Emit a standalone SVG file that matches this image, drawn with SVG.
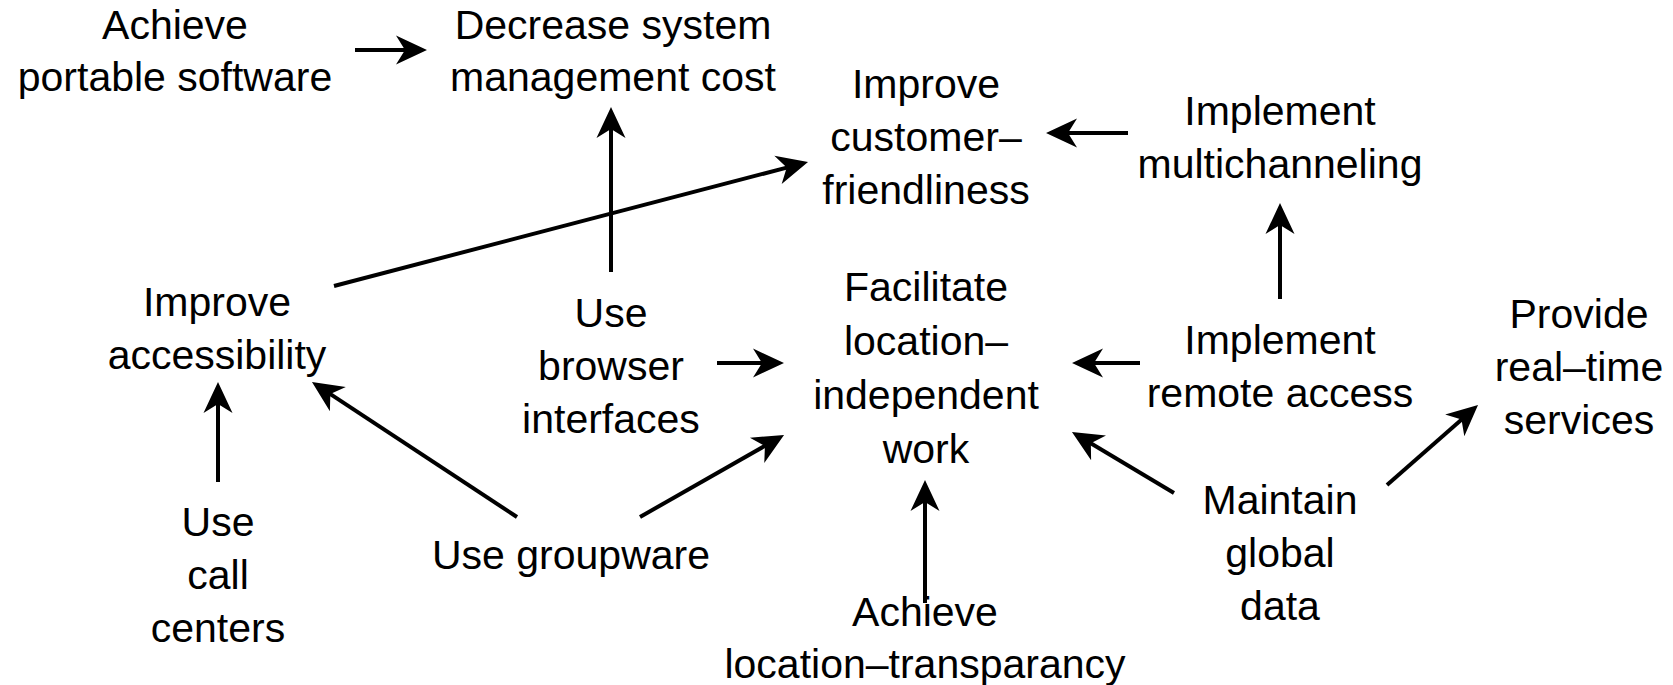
<svg xmlns="http://www.w3.org/2000/svg" width="1673" height="685" viewBox="0 0 1673 685">
<style>
text{font-family:"Liberation Sans",Arial,sans-serif;font-size:41px;fill:#000;text-anchor:middle}
.e line{stroke:#000;stroke-width:4;fill:none;marker-end:url(#ah)}
</style>
<defs>
<marker id="ah" markerUnits="userSpaceOnUse" viewBox="-34 -16 36 32" markerWidth="36" markerHeight="32" refX="-18" refY="0" orient="auto">
<path d="M0,0 L-31,-14.5 L-22,0 L-31,14.5 Z" fill="#000"/>
</marker>
</defs>
<rect width="1673" height="685" fill="#fff"/>
<g class="e" id="connectors">
<line x1="355" y1="50" x2="409" y2="50"/>
<line x1="611" y1="272" x2="611" y2="125"/>
<line x1="334" y1="286" x2="790.6" y2="166.6"/>
<line x1="1128" y1="133" x2="1064" y2="133"/>
<line x1="1280" y1="299" x2="1280" y2="221"/>
<line x1="717" y1="363" x2="766" y2="363"/>
<line x1="1140" y1="363" x2="1090" y2="363"/>
<line x1="218" y1="482" x2="218" y2="400"/>
<line x1="517" y1="517" x2="327" y2="391.9"/>
<line x1="640" y1="517" x2="768.4" y2="443.9"/>
<line x1="925" y1="603" x2="925" y2="498"/>
<line x1="1174" y1="493" x2="1087.4" y2="441.2"/>
<line x1="1387" y1="485" x2="1464.5" y2="416.9"/>
</g>
<g id="n_portable"><text x="175" y="39">Achieve</text><text x="175" y="91">portable software</text></g>
<g id="n_decrease"><text x="613" y="39">Decrease system</text><text x="613" y="91">management cost</text></g>
<g id="n_customer"><text x="926" y="98">Improve</text><text x="926" y="151">customer–</text><text x="926" y="204">friendliness</text></g>
<g id="n_multichannel"><text x="1280" y="125">Implement</text><text x="1280" y="178">multichanneling</text></g>
<g id="n_accessibility"><text x="217" y="316">Improve</text><text x="217" y="369">accessibility</text></g>
<g id="n_browser"><text x="611" y="327">Use</text><text x="611" y="380">browser</text><text x="611" y="433">interfaces</text></g>
<g id="n_facilitate"><text x="926" y="301">Facilitate</text><text x="926" y="355">location–</text><text x="926" y="409">independent</text><text x="926" y="463">work</text></g>
<g id="n_remote"><text x="1280" y="354">Implement</text><text x="1280" y="407">remote access</text></g>
<g id="n_realtime"><text x="1579" y="328">Provide</text><text x="1579" y="381">real–time</text><text x="1579" y="434">services</text></g>
<g id="n_callcenters"><text x="218" y="536">Use</text><text x="218" y="589">call</text><text x="218" y="642">centers</text></g>
<g id="n_groupware"><text x="571" y="569">Use groupware</text></g>
<g id="n_transparency"><text x="925" y="626">Achieve</text><text x="925" y="678">location–transparancy</text></g>
<g id="n_global"><text x="1280" y="514">Maintain</text><text x="1280" y="567">global</text><text x="1280" y="620">data</text></g>
</svg>
